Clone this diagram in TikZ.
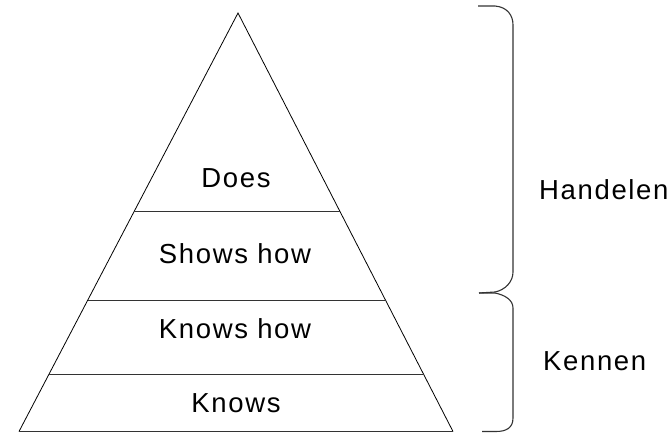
\documentclass[tikz,border=0pt]{standalone}
\usepackage{fontspec}
\setmainfont{Liberation Sans}[LetterSpace=6]
\usetikzlibrary{calc}
\begin{document}
\begin{tikzpicture}[x=1pt,y=-1pt,
  side/.style={draw=black,line width=0.8pt},
  tier/.style={draw=black!80,line width=1.1pt},
  brace/.style={draw=black!80,line width=1.1pt},
  lbl/.style={font=\fontsize{27.5}{30}\selectfont,inner sep=0pt,anchor=base},
  sidelbl/.style={font=\fontsize{27.5}{30}\selectfont,inner sep=0pt,anchor=base west}]
\useasboundingbox (0,0) rectangle (671,433);
\coordinate (apex) at (238,13);
\coordinate (bl) at (19,431.5);
\coordinate (br) at (453,431.5);
\draw[side] (bl) -- (apex) -- (br);
\draw[tier] (bl) -- (br);
\foreach \t/\n in {0.475/a,0.687/b,0.864/c}{
  \coordinate (l\n) at ($(apex)!\t!(bl)$);
  \coordinate (r\n) at ($(apex)!\t!(br)$);
  \draw[tier] (l\n) -- (r\n);
}
\node[lbl] (does) at (236,187) {Does};
\node[lbl] (shows) at (235,263) {Shows how};
\node[lbl] (knowshow) at (235,338) {Knows how};
\node[lbl] (knows) at (236,412) {Knows};
\node[sidelbl] (handelen) at (539,199) {Handelen};
\node[sidelbl] (kennen) at (543,370) {Kennen};
\coordinate (tip) at (479,293);
\draw[brace] (478,6) -- (495,6) .. controls (507,7) and (513,15) .. (513,25)
  -- (513,272) .. controls (513,282) and (505,290) .. (495,292) -- (tip);
\draw[brace] (tip) -- (495,293) .. controls (505,295) and (513,300) .. (513,308)
  -- (513,418) .. controls (513,428) and (506,431.5) .. (496,431.5) -- (482,431.5);
\end{tikzpicture}
\end{document}
